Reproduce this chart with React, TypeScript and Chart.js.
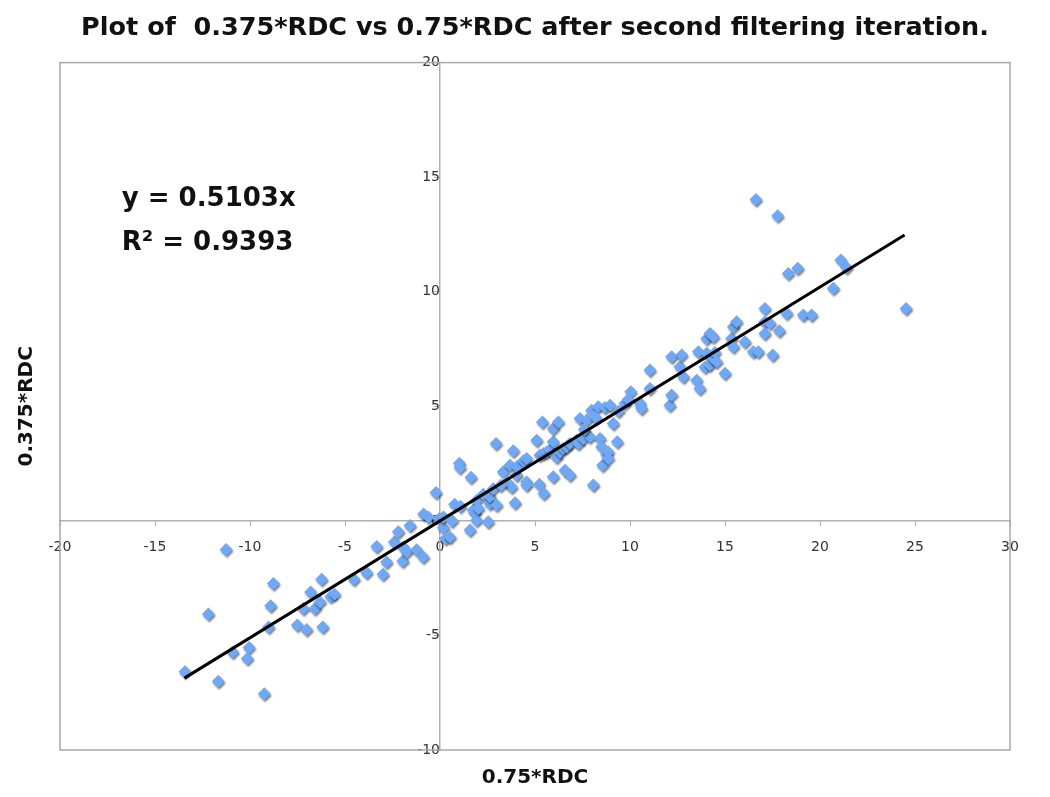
import { useEffect, useRef } from "react";
import { Chart, registerables } from "chart.js";

Chart.register(...registerables);

const chartTitle = "Plot of  0.375*RDC vs 0.75*RDC after second filtering iteration.";
const xAxisTitle = "0.75*RDC";
const yAxisTitle = "0.375*RDC";
const equationText = "y = 0.5103x";
const rSquaredText = "R² = 0.9393";
const equationAnchorX = -16.75;
const equationAnchorY = [14.05, 12.12];

const trendSlope = 0.5103;
const trendRange = [-13.45, 24.45];

const xMin = -20;
const xMax = 30;
const xStep = 5;
const yMin = -10;
const yMax = 20;
const yStep = 5;

// 0.75*RDC (x values)
const rdc075 = [
  -13.42, -12.19, -11.67, -11.26, -10.91, -10.05, -10.14, -9.25, -9.02, -8.91,
  -8.77, -7.51, -7.19, -7.02, -6.81, -6.58, -6.32, -6.23, -6.17, -5.75,
  -5.55, -4.53, -3.86, -3.33, -3.0, -2.81, -2.4, -2.19, -1.96, -1.93,
  -1.75, -1.58, -1.23, -0.88, -0.86, -0.61, -0.21, -0.04, 0.18, 0.18,
  0.3, 0.53, 0.64, 0.77, 1.08, 1.58, 1.75, 1.84, 1.93, 1.93,
  2.02, 1.02, 1.05, 1.63, 2.28, 2.54, 2.63, 2.63, 2.95, 2.98,
  3.33, 3.51, 3.68, 3.77, 3.86, 3.95, 4.04, 4.04, 4.39, 4.56,
  4.56, 4.56, 5.09, 5.23, 5.26, 5.39, 5.44, 5.47, 5.61, 5.79,
  5.96, 5.96, 5.96, 6.14, 6.23, 6.32, 6.49, 6.58, 6.67, 6.84,
  6.84, 7.19, 7.28, 7.37, 7.54, 7.72, 7.89, 7.98, 8.07, 8.33,
  8.42, 8.51, 8.56, 8.68, 8.77, 8.86, 8.86, 8.95, 9.12, 9.33,
  9.74, 10.04, 10.53, 10.61, 11.05, 11.05, 12.1, 12.19, 12.19, 12.63,
  12.72, 12.81, 13.51, 13.6, 13.68, 13.95, 14.04, 14.04, 14.2, 14.21,
  14.37, 14.39, 14.47, 14.56, 15.0, 15.35, 15.44, 15.44, 15.61, 16.05,
  16.49, 16.75, 16.63, 17.1, 17.1, 17.37, 17.1, 17.51, 17.77, 17.86,
  18.25, 18.33, 18.83, 19.12, 19.56, 20.7, 21.1, 21.4, 24.53, 7.6,
  8.2, 9.4, 9.9, 2.8, 3.2,
];

// 0.375*RDC (y values)
const rdc0375 = [
  -6.59, -4.07, -7.0, -1.25, -5.72, -5.53, -6.01, -7.54, -4.63, -3.7,
  -2.73, -4.55, -3.83, -4.74, -3.1, -3.83, -3.54, -2.55, -4.63, -3.3,
  -3.2, -2.55, -2.25, -1.12, -2.33, -1.79, -0.92, -0.48, -1.75, -1.14,
  -1.35, -0.2, -1.26, -1.58, 0.3, 0.17, 1.24, 0.1, -0.3, 0.17,
  -0.77, -0.72, 0.0, 0.72, 0.64, -0.4, 0.47, 0.36, 0.03, 0.9,
  0.54, 2.51, 2.33, 1.9, 1.16, -0.04, 0.76, 1.05, 3.38, 0.69,
  2.14, 1.7, 2.43, 1.48, 3.06, 0.79, 2.0, 2.36, 2.62, 2.72,
  1.7, 1.56, 3.52, 1.6, 2.87, 4.32, 2.94, 1.19, 3.01, 3.09,
  3.45, 1.92, 4.03, 2.79, 4.32, 3.01, 3.16, 2.21, 3.23, 2.0,
  3.38, 3.52, 3.38, 4.47, 3.6, 4.4, 3.67, 4.83, 1.56, 4.98,
  3.6, 3.23, 2.43, 4.95, 2.87, 3.01, 2.72, 5.05, 4.25, 3.45,
  5.13, 5.63, 5.13, 4.91, 6.58, 5.78, 5.05, 5.49, 7.16, 6.73,
  7.24, 6.29, 6.14, 7.38, 5.78, 6.72, 7.96, 7.31, 6.8, 8.18,
  7.1, 8.04, 7.35, 6.94, 6.44, 7.96, 8.47, 7.6, 8.69, 7.82,
  7.38, 7.38, 14.03, 9.27, 8.69, 8.62, 8.18, 7.24, 13.32, 8.3,
  9.06, 10.8, 11.02, 8.98, 8.98, 10.15, 11.38, 11.06, 9.27, 4.0,
  4.5, 4.8, 5.3, 1.4, 1.55,
];

const decorPlugin = {
  id: "decor",
  beforeDatasetsDraw(chart: any) {
    const { ctx, chartArea: a } = chart;
    ctx.save();
    ctx.strokeStyle = "#a8a8a8";
    ctx.lineWidth = 1.5;
    ctx.strokeRect(a.left, a.top, a.right - a.left, a.bottom - a.top);
    ctx.restore();
  },
  beforeDatasetDraw(chart: any, args: any) {
    if (args.index === 1) {
      const ctx = chart.ctx;
      ctx.save();
      ctx.shadowColor = "rgba(0,0,0,0.5)";
      ctx.shadowOffsetX = 1;
      ctx.shadowOffsetY = 2;
      ctx.shadowBlur = 2;
    }
  },
  afterDatasetDraw(chart: any, args: any) {
    if (args.index === 1) chart.ctx.restore();
  },
  afterDraw(chart: any) {
    const { ctx, chartArea: a, scales } = chart;
    ctx.save();
    ctx.fillStyle = "#111";
    ctx.textAlign = "center";
    ctx.textBaseline = "middle";
    ctx.font = 'bold 20px "DejaVu Sans"';
    ctx.fillText(xAxisTitle, (a.left + a.right) / 2, a.bottom + 28);
    ctx.save();
    ctx.translate(a.left - 33, (a.top + a.bottom) / 2);
    ctx.rotate(-Math.PI / 2);
    ctx.fillText(yAxisTitle, 0, 0);
    ctx.restore();
    ctx.textAlign = "left";
    ctx.font = 'bold 26px "DejaVu Sans"';
    const ex = scales.x.getPixelForValue(equationAnchorX);
    ctx.fillText(equationText, ex, scales.y.getPixelForValue(equationAnchorY[0]));
    ctx.fillText(rSquaredText, ex, scales.y.getPixelForValue(equationAnchorY[1]));
    ctx.restore();
  },
};

export default function App() {
  const ref = useRef<HTMLCanvasElement>(null);
  useEffect(() => {
    if (!ref.current) return;
    const points = rdc075.map((x, i) => ({ x, y: rdc0375[i] }));
    const trend = trendRange.map((x) => ({ x, y: trendSlope * x }));
    const tickFont = { family: '"DejaVu Sans"', size: 14 };
    const chart = new Chart(ref.current, {
      type: "scatter",
      data: {
        datasets: [
          {
            type: "line",
            data: trend,
            borderColor: "#000",
            borderWidth: 3,
            pointRadius: 0,
            showLine: true,
            fill: false,
          } as any,
          {
            data: points,
            pointStyle: "rectRot",
            pointRadius: 6.5,
            backgroundColor: "#6fa8f4",
            borderWidth: 0,
          },
        ],
      },
      options: {
        animation: false,
        responsive: true,
        maintainAspectRatio: false,
        events: [],
        layout: { padding: { left: 52, right: 32, top: 0, bottom: 39 } },
        plugins: {
          legend: { display: false },
          tooltip: { enabled: false },
          title: {
            display: true,
            text: chartTitle,
            color: "#111",
            font: { family: '"DejaVu Sans"', size: 25.5, weight: "bold" },
            padding: { top: 5, bottom: 19 },
          },
        },
        scales: {
          x: {
            type: "linear",
            min: xMin,
            max: xMax,
            position: { y: 0 } as any,
            ticks: {
              stepSize: xStep,
              color: "#333",
              font: tickFont,
              padding: 13,
              maxRotation: 0,
              autoSkip: false,
            },
            grid: { drawOnChartArea: false, drawTicks: true, tickLength: 5, color: "#b0b0b0" },
            border: { color: "#b0b0b0", width: 1.5 },
          },
          y: {
            type: "linear",
            min: yMin,
            max: yMax,
            position: { x: 0 } as any,
            ticks: {
              stepSize: yStep,
              color: "#333",
              font: tickFont,
              padding: 8,
              autoSkip: false,
            },
            grid: { drawOnChartArea: false, drawTicks: true, tickLength: 5, color: "#b0b0b0" },
            border: { color: "#b0b0b0", width: 1.5 },
          },
        },
      },
      plugins: [decorPlugin],
    });
    return () => chart.destroy();
  }, []);
  return (
    <div style={{ width: 1034, height: 781, position: "relative" }}>
      <canvas ref={ref} />
    </div>
  );
}
